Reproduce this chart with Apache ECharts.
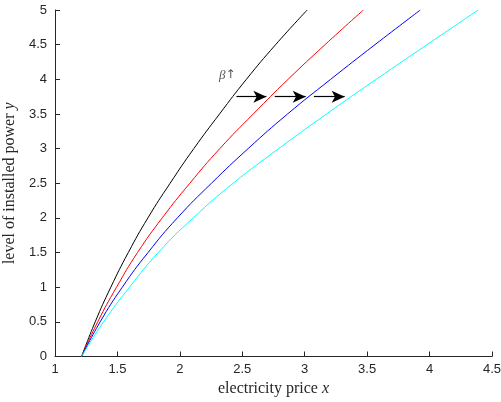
<!DOCTYPE html>
<html><head><meta charset="utf-8">
<script src="https://cdn.jsdelivr.net/npm/echarts@6/dist/echarts.min.js"></script>
<style>html,body{margin:0;padding:0;background:#fff}#c{width:501px;height:402px}</style>
</head><body><div id="c"></div>
<script>
// level of installed power y (shared sample heights)
const yLevels = [0, 0.5, 1, 1.5, 2, 2.5, 3, 3.5, 4, 4.5, 5];
// electricity price x for each curve at those heights
const xBlack = [1.213, 1.322, 1.447, 1.587, 1.744, 1.922, 2.112, 2.318, 2.533, 2.767, 3.02];
const xRed   = [1.213, 1.342, 1.493, 1.661, 1.859, 2.08, 2.32, 2.588, 2.867, 3.163, 3.47];
const xBlue  = [1.213, 1.362, 1.539, 1.745, 1.98, 2.253, 2.547, 2.863, 3.208, 3.563, 3.926];
const xCyan  = [1.213, 1.389, 1.597, 1.827, 2.107, 2.427, 2.792, 3.175, 3.573, 3.98, 4.39];
// arrows (start x, end x) at height arrowY
const arrowY = 3.75;
const arrowStart = [2.453, 2.76, 3.074];
const arrowEnd = [2.693, 3.008, 3.32];
const labelPos = [2.38, 4.06];
const xTicks = {min: 1, max: 4.5, step: 0.5};
const yTicks = {min: 0, max: 5, step: 0.5};

const pairs = xs => xs.map((x, i) => [x, yLevels[i]]);
const axisCol = '#262626';
const serif = '"Liberation Serif","DejaVu Serif",serif';
const sans = '"Liberation Sans",Arial,sans-serif';

const chart = echarts.init(document.getElementById('c'), null, {renderer: 'canvas'});
function mkLine(xs, color, extra) {
  return Object.assign({
    type: 'line', data: pairs(xs), showSymbol: false, symbol: 'none',
    smooth: 0.5, animation: false,
    lineStyle: {color: color, width: 1}, itemStyle: {color: color}, z: 3
  }, extra || {});
}
chart.setOption({
  animation: false,
  grid: {left: 55, right: 9, top: 10, bottom: 45.5, containLabel: false, outerBoundsMode: 'none'},
  xAxis: {
    type: 'value', min: xTicks.min, max: xTicks.max, interval: xTicks.step,
    axisLine: {show: true, lineStyle: {color: axisCol, width: 1}},
    axisTick: {show: true, inside: true, length: 5, lineStyle: {color: axisCol}},
    axisLabel: {color: axisCol, fontSize: 13, fontFamily: sans, margin: 6},
    splitLine: {show: false},
    name: '{n|electricity price }{i|x}', nameLocation: 'middle', nameGap: 22,
    nameTextStyle: {rich: {
      n: {fontFamily: serif, fontSize: 16, color: axisCol},
      i: {fontFamily: serif, fontSize: 16, fontStyle: 'italic', color: axisCol}
    }}
  },
  yAxis: {
    type: 'value', min: yTicks.min, max: yTicks.max, interval: yTicks.step,
    axisLine: {show: true, lineStyle: {color: axisCol, width: 1}},
    axisTick: {show: true, inside: true, length: 5, lineStyle: {color: axisCol}},
    axisLabel: {color: axisCol, fontSize: 13, fontFamily: sans, margin: 8},
    splitLine: {show: false},
    name: '{n|level of installed power }{i|y}', nameLocation: 'middle', nameGap: 34, nameRotate: 90,
    nameTextStyle: {rich: {
      n: {fontFamily: serif, fontSize: 16, color: axisCol},
      i: {fontFamily: serif, fontSize: 16, fontStyle: 'italic', color: axisCol}
    }}
  },
  series: [
    mkLine(xBlack, '#000000', {
      markPoint: {
        symbol: 'circle', symbolSize: 0, silent: true, animation: false,
        label: {show: true, position: 'inside', formatter: '{b|β}{a|↑}',
          rich: {
            b: {fontFamily: serif, fontStyle: 'italic', fontSize: 13, color: '#555'},
            a: {fontFamily: '"DejaVu Sans",sans-serif', fontSize: 12, color: '#555'}
          }},
        data: [{coord: labelPos}]
      }
    }),
    mkLine(xRed, '#ff0000'),
    mkLine(xBlue, '#0000ff'),
    mkLine(xCyan, '#00ffff', {
      markLine: {
        silent: true, animation: false, symbol: ['none', 'arrow'], symbolSize: [9, 13],
        label: {show: false},
        lineStyle: {color: '#000', width: 1.2, type: 'solid'},
        data: arrowStart.map((s, i) => [{coord: [s, arrowY]}, {coord: [arrowEnd[i], arrowY]}])
      }
    })
  ]
});
</script></body></html>
